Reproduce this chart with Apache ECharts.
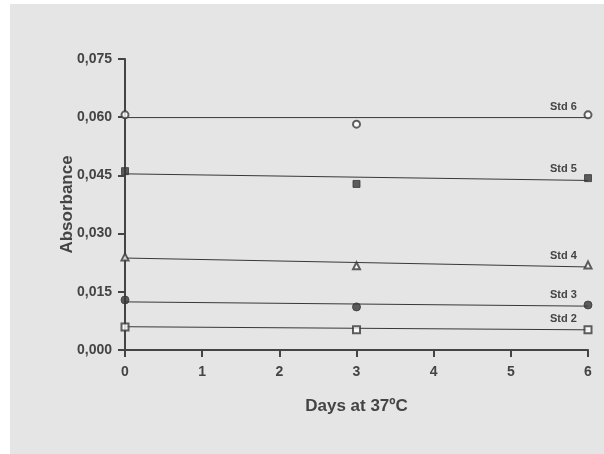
<!DOCTYPE html>
<html>
<head>
<meta charset="utf-8">
<script src="https://cdn.jsdelivr.net/npm/echarts@6/dist/echarts.min.js"></script>
<style>
    html, body { margin: 0; padding: 0; background: #fff; }
    #chart { width: 604px; height: 454px; }
</style>
</head>
<body>
<div id="chart"></div>
<script>
// measured days
var days = [0, 3, 6]
var stdNames = ['Std 6', 'Std 5', 'Std 4', 'Std 3', 'Std 2']

// absorbance readings per standard (day 0, 3, 6)
var std6 = [0.0606, 0.0582, 0.0606]
var std5 = [0.0461, 0.0428, 0.0443]
var std4 = [0.0240, 0.0217, 0.0219]
var std3 = [0.0129, 0.0111, 0.0116]
var std2 = [0.0059, 0.0052, 0.0052]

// fitted trend lines, value at day 0 and day 6
var fit6 = [0.0599, 0.0599]
var fit5 = [0.0454, 0.0437]
var fit4 = [0.0237, 0.0214]
var fit3 = [0.0124, 0.0113]
var fit2 = [0.0060, 0.0052]

var fitDays = [0, 6]
var yTicks = [0, 0.015, 0.030, 0.045, 0.060, 0.075]

var readings = [std6, std5, std4, std3, std2]
var fits = [fit6, fit5, fit4, fit3, fit2]
var symbols = ['emptyCircle', 'rect', 'emptyTriangle', 'circle', 'emptyRect']
var sizes = [7, 7, 7, 8, 7]

var ink = '#383838'

var series = []
for (var i = 0; i < stdNames.length; i++) {
    var fitData = []
    for (var j = 0; j < fitDays.length; j++) {
        fitData.push([fitDays[j], fits[i][j]])
    }
    series.push({
        name: stdNames[i] + ' fit',
        type: 'line',
        data: fitData,
        symbol: 'none',
        silent: true,
        lineStyle: { color: ink, width: 1 },
        endLabel: {
            show: true,
            formatter: stdNames[i],
            color: '#444',
            fontSize: 11,
            fontWeight: 'bold',
            fontFamily: 'Liberation Sans',
            offset: [-46, -11]
        }
    })

    var pts = []
    for (var k = 0; k < days.length; k++) {
        pts.push([days[k], readings[i][k]])
    }
    series.push({
        name: stdNames[i],
        type: 'scatter',
        data: pts,
        clip: false,
        symbol: symbols[i],
        symbolSize: sizes[i],
        itemStyle: { color: ink, borderColor: ink, borderWidth: 1 },
        z: 3
    })
}

var myChart = echarts.init(document.getElementById('chart'))

var option = {
    animation: false,
    backgroundColor: '#fff',
    graphic: [{
        type: 'rect',
        left: 10,
        top: 4,
        shape: { width: 594, height: 450 },
        style: { fill: '#e5e5e5' },
        z: -10
    }],
    grid: {
        left: 125,
        right: 16,
        top: 59,
        bottom: 104
    },
    xAxis: {
        type: 'value',
        min: 0,
        max: 6,
        interval: 1,
        name: 'Days at 37ºC',
        nameLocation: 'middle',
        nameGap: 48,
        nameMoveOverlap: false,
        nameTextStyle: { color: '#444', fontSize: 17, fontWeight: 'bold', fontFamily: 'Liberation Sans' },
        splitLine: { show: false },
        axisLine: { onZero: false, lineStyle: { color: '#444', width: 2 } },
        axisTick: { length: 7, lineStyle: { color: '#444', width: 2 } },
        axisLabel: { color: '#444', fontSize: 14, fontWeight: 'bold', fontFamily: 'Liberation Sans', margin: 15 }
    },
    yAxis: {
        type: 'value',
        min: 0,
        max: yTicks[yTicks.length - 1],
        interval: 0.015,
        name: 'Absorbance',
        nameLocation: 'middle',
        nameGap: 49,
        nameMoveOverlap: false,
        nameTextStyle: { color: '#444', fontSize: 17, fontWeight: 'bold', fontFamily: 'Liberation Sans' },
        splitLine: { show: false },
        axisLine: { show: true, lineStyle: { color: '#444', width: 2 } },
        axisTick: { show: true, length: 7, lineStyle: { color: '#444', width: 2 } },
        axisLabel: {
            color: '#444', fontSize: 14, fontWeight: 'bold', fontFamily: 'Liberation Sans', margin: 13,
            formatter: function (v) { return v.toFixed(3).replace('.', ',') }
        }
    },
    series: series
}
myChart.setOption(option)
</script>
</body>
</html>
